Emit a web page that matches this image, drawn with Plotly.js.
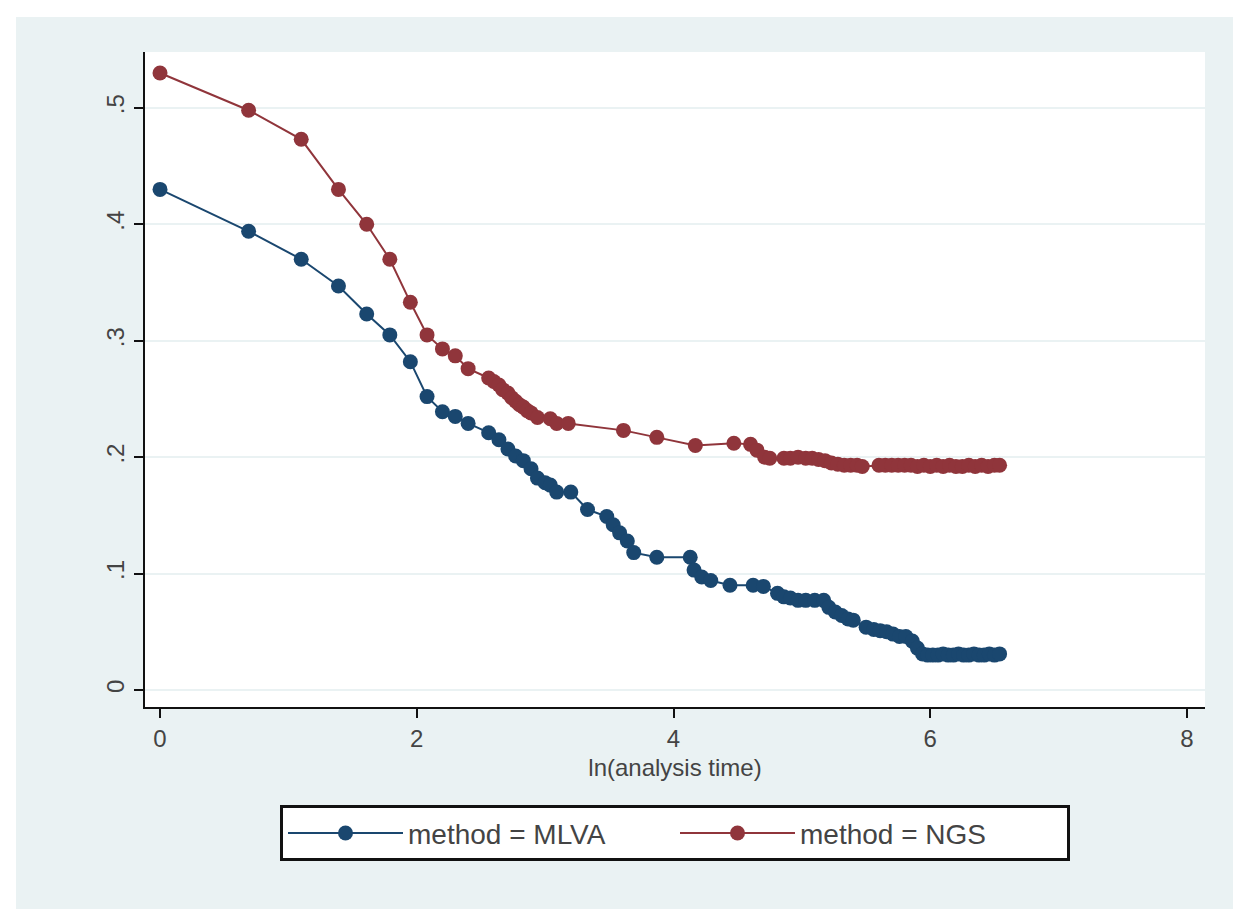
<!DOCTYPE html>
<html>
<head>
<meta charset="utf-8">
<script src="https://cdn.plot.ly/plotly-3.0.1.min.js"></script>
<style>
  html, body { margin: 0; padding: 0; background: #ffffff; }
  #chart { position: absolute; left: 16px; top: 17px; width: 1217px; height: 892px; }
</style>
</head>
<body>
<div id="chart"></div>
<script>
// ln(analysis time) and estimate for method = MLVA
const mlvaX = [0, 0.69, 1.10, 1.39, 1.61, 1.79, 1.95, 2.08, 2.20, 2.30, 2.40, 2.56, 2.64, 2.71, 2.77, 2.83, 2.89, 2.94, 3.00, 3.04, 3.09, 3.20, 3.33, 3.48, 3.53, 3.58, 3.64, 3.69, 3.87, 4.13, 4.16, 4.22, 4.29, 4.44, 4.62, 4.70, 4.81, 4.86, 4.91, 4.97, 5.03, 5.10, 5.17, 5.21, 5.26, 5.31, 5.36, 5.40, 5.50, 5.56, 5.61, 5.66, 5.71, 5.76, 5.81, 5.86, 5.90, 5.94, 5.98, 6.02, 6.06, 6.10, 6.14, 6.18, 6.22, 6.26, 6.30, 6.34, 6.38, 6.42, 6.46, 6.50, 6.54];
const mlvaY = [0.430, 0.394, 0.370, 0.347, 0.323, 0.305, 0.282, 0.252, 0.239, 0.235, 0.229, 0.221, 0.215, 0.207, 0.201, 0.197, 0.190, 0.182, 0.178, 0.176, 0.170, 0.170, 0.155, 0.149, 0.142, 0.135, 0.128, 0.118, 0.114, 0.114, 0.103, 0.097, 0.094, 0.090, 0.090, 0.089, 0.083, 0.080, 0.079, 0.077, 0.077, 0.077, 0.077, 0.071, 0.067, 0.064, 0.061, 0.060, 0.054, 0.052, 0.051, 0.050, 0.048, 0.046, 0.046, 0.042, 0.036, 0.031, 0.030, 0.030, 0.030, 0.031, 0.030, 0.030, 0.031, 0.030, 0.030, 0.031, 0.030, 0.030, 0.031, 0.030, 0.031];

// ln(analysis time) and estimate for method = NGS
const ngsX = [0, 0.69, 1.10, 1.39, 1.61, 1.79, 1.95, 2.08, 2.20, 2.30, 2.40, 2.56, 2.60, 2.64, 2.67, 2.71, 2.74, 2.77, 2.80, 2.83, 2.86, 2.89, 2.94, 3.04, 3.09, 3.18, 3.61, 3.87, 4.17, 4.47, 4.60, 4.65, 4.71, 4.75, 4.86, 4.91, 4.97, 5.03, 5.08, 5.13, 5.18, 5.23, 5.28, 5.33, 5.38, 5.43, 5.47, 5.60, 5.65, 5.70, 5.75, 5.80, 5.85, 5.90, 5.95, 6.00, 6.05, 6.10, 6.15, 6.20, 6.25, 6.30, 6.35, 6.40, 6.45, 6.50, 6.54];
const ngsY = [0.530, 0.498, 0.473, 0.430, 0.400, 0.370, 0.333, 0.305, 0.293, 0.287, 0.276, 0.268, 0.265, 0.262, 0.258, 0.255, 0.251, 0.248, 0.245, 0.243, 0.240, 0.238, 0.234, 0.233, 0.229, 0.229, 0.223, 0.217, 0.210, 0.212, 0.211, 0.206, 0.200, 0.199, 0.199, 0.199, 0.200, 0.199, 0.199, 0.198, 0.197, 0.195, 0.194, 0.193, 0.193, 0.193, 0.192, 0.193, 0.193, 0.193, 0.193, 0.193, 0.193, 0.192, 0.193, 0.192, 0.193, 0.192, 0.193, 0.192, 0.192, 0.193, 0.192, 0.193, 0.192, 0.193, 0.193];

const xTicks = [0, 2, 4, 6, 8];
const xTickText = ['0', '2', '4', '6', '8'];
const yTicks = [0, 0.1, 0.2, 0.3, 0.4, 0.5];
const yTickText = ['0', '.1', '.2', '.3', '.4', '.5'];

const navy = '#1a476f';
const maroon = '#90353b';
const fontFam = 'Liberation Sans, Arial, sans-serif';
const textCol = '#444444';

const traces = [
  {
    x: mlvaX, y: mlvaY, name: 'method = MLVA', type: 'scatter', mode: 'lines+markers',
    line: { color: navy, width: 2 },
    marker: { color: navy, size: 15 }
  },
  {
    x: ngsX, y: ngsY, name: 'method = NGS', type: 'scatter', mode: 'lines+markers',
    line: { color: maroon, width: 2 },
    marker: { color: maroon, size: 15 }
  }
];

const layout = {
  width: 1217, height: 892,
  paper_bgcolor: '#eaf2f3',
  plot_bgcolor: '#ffffff',
  margin: { l: 129, r: 28, t: 35, b: 202 },
  font: { family: fontFam, color: textCol, size: 24 },
  showlegend: true,
  xaxis: {
    range: [-0.117, 8.14],
    tickvals: xTicks, ticktext: xTickText,
    ticks: 'outside', ticklen: 9, tickwidth: 2, tickcolor: '#111111',
    showline: true, linecolor: '#111111', linewidth: 2,
    showgrid: false, zeroline: false,
    tickfont: { size: 24, color: textCol },
    title: { text: 'ln(analysis time)', font: { size: 24, color: textCol }, standoff: 8 }
  },
  yaxis: {
    range: [-0.0146, 0.548],
    tickvals: yTicks, ticktext: yTickText,
    tickangle: -90,
    ticks: 'outside', ticklen: 9, tickwidth: 2, tickcolor: '#111111',
    showline: true, linecolor: '#111111', linewidth: 2,
    showgrid: true, gridcolor: '#eaf2f3', gridwidth: 2,
    zeroline: false,
    tickfont: { size: 24, color: textCol }
  },
  legend: {
    orientation: 'h',
    x: 0.5, xanchor: 'center',
    y: -0.15, yanchor: 'top',
    bgcolor: '#ffffff',
    bordercolor: '#111111', borderwidth: 3,
    font: { size: 28, color: textCol },
    entrywidth: 262,
    itemwidth: 115,
    traceorder: 'normal'
  }
};

Plotly.newPlot('chart', traces, layout, { displayModeBar: false, staticPlot: true });
</script>
</body>
</html>
